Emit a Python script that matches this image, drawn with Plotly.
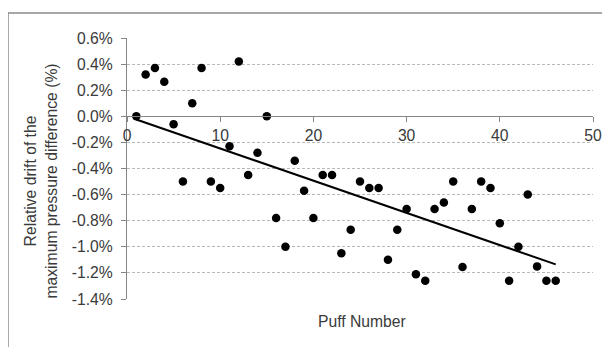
import numpy as np
import plotly.graph_objects as go

puff = list(range(1, 47))
drift = [0.00, 0.32, 0.37, 0.265, -0.06, -0.50, 0.10, 0.37, -0.50, -0.55,
         -0.23, 0.42, -0.45, -0.28, 0.00, -0.78, -1.00, -0.34, -0.57, -0.78,
         -0.45, -0.45, -1.05, -0.87, -0.50, -0.55, -0.55, -1.10, -0.87, -0.71,
         -1.21, -1.26, -0.71, -0.66, -0.50, -1.155, -0.71, -0.50, -0.55, -0.82,
         -1.26, -1.00, -0.60, -1.15, -1.26, -1.26]

y_ticks = [0.6, 0.4, 0.2, 0.0, -0.2, -0.4, -0.6, -0.8, -1.0, -1.2, -1.4]
y_ticktext = ["0.6%", "0.4%", "0.2%", "0.0%", "-0.2%", "-0.4%", "-0.6%",
              "-0.8%", "-1.0%", "-1.2%", "-1.4%"]
x_ticks = [0, 10, 20, 30, 40, 50]

# linear trend forced through the origin (as in the spreadsheet chart)
px = np.array(puff, dtype=float)
py = np.array(drift, dtype=float)
slope = float((px * py).sum() / (px * px).sum())
fit_x = [puff[0], puff[-1]]
fit_y = [slope * v for v in fit_x]

font = "Liberation Sans, Arial, sans-serif"
fsize = 15.7
tick_color = "#3a3a3a"
axis_color = "#868686"

fig = go.Figure()
fig.add_trace(go.Scatter(x=fit_x, y=fit_y, mode="lines",
                         line=dict(color="black", width=2), hoverinfo="skip"))
fig.add_trace(go.Scatter(x=puff, y=drift, mode="markers",
                         marker=dict(color="black", size=8.5)))

fig.update_layout(
    width=610, height=347,
    margin=dict(l=119, r=25, t=30, b=56),
    paper_bgcolor="white", plot_bgcolor="white",
    showlegend=False,
    font=dict(family=font, size=fsize, color=tick_color),
    xaxis=dict(range=[0, 50], tickvals=x_ticks, showgrid=False,
               anchor="free", position=0.7, showline=True,
               linecolor=axis_color, linewidth=1.3,
               ticks="outside", ticklen=5, tickcolor=axis_color,
               tickfont=dict(size=fsize, color=tick_color), zeroline=False),
    yaxis=dict(range=[-1.4, 0.6], tickvals=y_ticks, ticktext=y_ticktext,
               showgrid=True, gridcolor="#b8b8b8", griddash="3px,2px",
               gridwidth=1, zeroline=False, showline=True,
               linecolor=axis_color, linewidth=1.3,
               ticks="outside", ticklen=5, tickcolor=axis_color,
               ticklabelstandoff=5,
               tickfont=dict(size=fsize, color=tick_color)),
    annotations=[
        dict(text="Puff Number", xref="paper", yref="paper",
             x=0.505, y=-0.088, showarrow=False, yanchor="middle",
             font=dict(size=fsize, color=tick_color)),
        dict(text="Relative drift of the<br>maximum pressure difference (%)",
             xref="paper", yref="paper", x=-0.1856, y=0.452,
             xanchor="center", yanchor="middle", textangle=-90,
             showarrow=False, font=dict(size=fsize, color=tick_color)),
    ],
    shapes=[dict(type="rect", xref="paper", yref="paper",
                 x0=-0.2554, x1=1.1, y0=-0.3, y1=1.0958,
                 line=dict(color="#8a8a8a", width=1.5), layer="below")],
)

fig.write_html("out.html")
